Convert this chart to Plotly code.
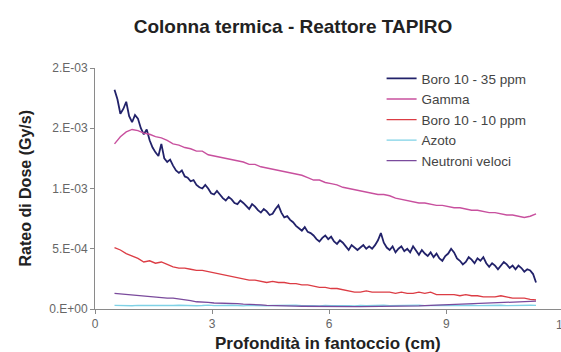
import plotly.graph_objects as go

# depth (cm) for the finely sampled Boro 10 - 35 ppm series
depth35 = [0.500, 0.575, 0.650, 0.725, 0.800, 0.875, 0.950, 1.025, 1.100, 1.175,
           1.250, 1.325, 1.400, 1.475, 1.550, 1.625, 1.700, 1.775, 1.850, 1.925,
           2.000, 2.075, 2.150, 2.225, 2.300, 2.375, 2.450, 2.525, 2.600, 2.675,
           2.750, 2.825, 2.900, 2.975, 3.050, 3.125, 3.200, 3.275, 3.350, 3.425,
           3.500, 3.575, 3.650, 3.725, 3.800, 3.875, 3.950, 4.025, 4.100, 4.175,
           4.250, 4.325, 4.400, 4.475, 4.550, 4.625, 4.700, 4.775, 4.850, 4.925,
           5.000, 5.075, 5.150, 5.225, 5.300, 5.375, 5.450, 5.525, 5.600, 5.675,
           5.750, 5.825, 5.900, 5.975, 6.050, 6.125, 6.200, 6.275, 6.350, 6.425,
           6.500, 6.575, 6.650, 6.725, 6.800, 6.875, 6.950, 7.025, 7.100, 7.175,
           7.250, 7.325, 7.400, 7.475, 7.550, 7.625, 7.700, 7.775, 7.850, 7.925,
           8.000, 8.075, 8.150, 8.225, 8.300, 8.375, 8.450, 8.525, 8.600, 8.675,
           8.750, 8.825, 8.900, 8.975, 9.050, 9.125, 9.200, 9.275, 9.350, 9.425,
           9.500, 9.575, 9.650, 9.725, 9.800, 9.875, 9.950, 10.025, 10.100, 10.175,
           10.250, 10.325, 10.400, 10.475, 10.550, 10.625, 10.700, 10.775, 10.850, 10.925,
           11.000, 11.075, 11.150, 11.225, 11.300]

# depth (cm) for the other series
depth = [0.50, 0.65, 0.80, 0.95, 1.10, 1.25, 1.40, 1.55, 1.70, 1.85,
         2.00, 2.15, 2.30, 2.45, 2.60, 2.75, 2.90, 3.05, 3.20, 3.35,
         3.50, 3.65, 3.80, 3.95, 4.10, 4.25, 4.40, 4.55, 4.70, 4.85,
         5.00, 5.15, 5.30, 5.45, 5.60, 5.75, 5.90, 6.05, 6.20, 6.35,
         6.50, 6.65, 6.80, 6.95, 7.10, 7.25, 7.40, 7.55, 7.70, 7.85,
         8.00, 8.15, 8.30, 8.45, 8.60, 8.75, 8.90, 9.05, 9.20, 9.35,
         9.50, 9.65, 9.80, 9.95, 10.10, 10.25, 10.40, 10.55, 10.70, 10.85,
         11.00, 11.15, 11.30]

# dose rates in units of 1e-3 Gy/s
boro35 = [1.82, 1.74, 1.62, 1.66, 1.72, 1.60, 1.55, 1.61, 1.58, 1.50,
          1.45, 1.49, 1.40, 1.34, 1.30, 1.27, 1.37, 1.25, 1.22, 1.24,
          1.19, 1.15, 1.13, 1.15, 1.10, 1.09, 1.06, 1.07, 1.03, 1.01,
          1.00, 1.03, 1.00, 0.96, 0.95, 0.98, 0.95, 0.92, 0.90, 0.93,
          0.91, 0.88, 0.87, 0.90, 0.88, 0.85, 0.83, 0.87, 0.85, 0.82,
          0.80, 0.83, 0.81, 0.78, 0.79, 0.83, 0.86, 0.80, 0.76, 0.77,
          0.74, 0.72, 0.69, 0.67, 0.65, 0.68, 0.64, 0.63, 0.61, 0.58,
          0.56, 0.59, 0.61, 0.58, 0.60, 0.56, 0.54, 0.57, 0.55, 0.52,
          0.49, 0.53, 0.51, 0.49, 0.51, 0.53, 0.50, 0.52, 0.50, 0.53,
          0.57, 0.63, 0.55, 0.51, 0.49, 0.52, 0.47, 0.50, 0.52, 0.48,
          0.50, 0.47, 0.52, 0.48, 0.45, 0.49, 0.46, 0.44, 0.47, 0.43,
          0.46, 0.42, 0.40, 0.44, 0.46, 0.50, 0.47, 0.42, 0.40, 0.37,
          0.39, 0.43, 0.41, 0.38, 0.42, 0.40, 0.43, 0.38, 0.35, 0.38,
          0.36, 0.33, 0.36, 0.39, 0.37, 0.34, 0.36, 0.33, 0.36, 0.34,
          0.31, 0.33, 0.32, 0.29, 0.22]
gamma = [1.37, 1.43, 1.47, 1.49, 1.48, 1.46, 1.45, 1.43, 1.42, 1.40,
         1.37, 1.36, 1.34, 1.33, 1.31, 1.31, 1.28, 1.27, 1.26, 1.25,
         1.24, 1.23, 1.22, 1.20, 1.20, 1.18, 1.17, 1.16, 1.15, 1.14,
         1.13, 1.12, 1.11, 1.09, 1.07, 1.07, 1.05, 1.04, 1.03, 1.01,
         1.00, 0.99, 0.98, 0.97, 0.96, 0.95, 0.95, 0.94, 0.92, 0.91,
         0.90, 0.89, 0.88, 0.88, 0.87, 0.86, 0.86, 0.85, 0.84, 0.84,
         0.83, 0.82, 0.82, 0.81, 0.80, 0.80, 0.79, 0.78, 0.78, 0.77,
         0.76, 0.77, 0.79]
boro10 = [0.51, 0.49, 0.46, 0.44, 0.42, 0.39, 0.40, 0.38, 0.39, 0.37,
          0.35, 0.34, 0.34, 0.33, 0.32, 0.32, 0.31, 0.30, 0.29, 0.28,
          0.27, 0.26, 0.25, 0.24, 0.24, 0.23, 0.22, 0.23, 0.22, 0.22,
          0.21, 0.21, 0.20, 0.20, 0.19, 0.18, 0.18, 0.17, 0.17, 0.16,
          0.15, 0.14, 0.14, 0.15, 0.14, 0.14, 0.14, 0.14, 0.13, 0.14,
          0.13, 0.13, 0.14, 0.13, 0.14, 0.12, 0.12, 0.12, 0.12, 0.11,
          0.12, 0.11, 0.11, 0.10, 0.10, 0.10, 0.11, 0.10, 0.09, 0.09,
          0.09, 0.08, 0.075]
azoto = [0.030, 0.028, 0.031, 0.027, 0.030, 0.029, 0.032, 0.028, 0.030, 0.027,
         0.029, 0.031, 0.028, 0.030, 0.027, 0.029, 0.032, 0.028, 0.030, 0.027,
         0.031, 0.029, 0.026, 0.030, 0.028, 0.031, 0.027, 0.029, 0.030, 0.026,
         0.029, 0.031, 0.027, 0.030, 0.028, 0.026, 0.030, 0.027, 0.029, 0.031,
         0.028, 0.026, 0.030, 0.027, 0.029, 0.028, 0.031, 0.027, 0.029, 0.030,
         0.027, 0.029, 0.031, 0.028, 0.030, 0.027, 0.029, 0.031, 0.028, 0.030,
         0.029, 0.031, 0.028, 0.030, 0.032, 0.029, 0.031, 0.028, 0.030, 0.032,
         0.029, 0.031, 0.030]
neutroni = [0.130, 0.125, 0.120, 0.115, 0.110, 0.105, 0.100, 0.100, 0.095, 0.090,
            0.090, 0.085, 0.080, 0.070, 0.060, 0.060, 0.055, 0.050, 0.050, 0.050,
            0.045, 0.045, 0.040, 0.040, 0.035, 0.035, 0.030, 0.030, 0.028, 0.026,
            0.025, 0.024, 0.023, 0.022, 0.022, 0.021, 0.020, 0.020, 0.020, 0.019,
            0.020, 0.019, 0.020, 0.020, 0.021, 0.020, 0.021, 0.022, 0.022, 0.023,
            0.024, 0.025, 0.026, 0.028, 0.030, 0.031, 0.033, 0.035, 0.037, 0.040,
            0.043, 0.045, 0.047, 0.049, 0.050, 0.051, 0.053, 0.054, 0.055, 0.057,
            0.059, 0.061, 0.065]

series_names = ["Boro 10 - 35 ppm", "Gamma", "Boro 10 - 10 ppm", "Azoto", "Neutroni veloci"]
y_tickvals = [0.0, 0.5e-3, 1.0e-3, 1.5e-3, 2.0e-3]
y_ticktext = ["0.E+00", "5.E-04", "1.E-03", "2.E-03", "2.E-03"]
x_tickvals = [0, 3, 6, 9]
x_ticktext = ["0", "3", "6", "9"]

colors = ["#22226a", "#c8509e", "#dc3c44", "#7fd2e6", "#7a4a9c"]
widths = [1.8, 1.4, 1.3, 1.3, 1.3]
xs = [depth35, depth, depth, depth, depth]
data = [boro35, gamma, boro10, azoto, neutroni]

FONT = "Liberation Sans, Arial, sans-serif"

fig = go.Figure()
for name, x, vals, c, w in zip(series_names, xs, data, colors, widths):
    fig.add_trace(go.Scatter(
        x=x, y=[v * 1e-3 for v in vals], mode="lines", name=name,
        line=dict(color=c, width=w)))

fig.update_layout(
    width=561, height=352,
    margin=dict(l=95, r=0, t=68, b=43),
    paper_bgcolor="white", plot_bgcolor="white",
    font=dict(family=FONT, color="#333333", size=12),
    showlegend=True,
    legend=dict(x=0.615, y=1.02, xanchor="left", yanchor="top",
                bgcolor="rgba(0,0,0,0)", font=dict(size=13.5, color="#444444"),
                itemwidth=30, tracegroupgap=0),
    title=dict(text="<b>Colonna termica - Reattore TAPIRO</b>",
               x=293 / 561, xanchor="center", y=1 - 26 / 352, yanchor="middle",
               font=dict(family=FONT, size=19, color="#222222")),
)
fig.update_xaxes(range=[0, 11.94], tickvals=x_tickvals, ticktext=x_ticktext,
                 showline=True, linecolor="#8a8a8a", linewidth=1,
                 ticks="outside", ticklen=4, tickcolor="#8a8a8a",
                 showgrid=False, zeroline=False,
                 tickfont=dict(size=12, color="#666666"))
fig.update_yaxes(range=[0, 2.0e-3], tickvals=y_tickvals, ticktext=y_ticktext,
                 showline=True, linecolor="#8a8a8a", linewidth=1,
                 ticks="outside", ticklen=4, tickcolor="#8a8a8a",
                 showgrid=False, zeroline=False,
                 tickfont=dict(size=12, color="#666666"))

# cut-off "12" tick label at the right edge
fig.add_annotation(text="12", xref="paper", yref="paper", x=(563 - 95) / 466, y=0,
                   yshift=-16, showarrow=False, xanchor="center", yanchor="middle",
                   font=dict(size=12, color="#666666"))
# axis titles
fig.add_annotation(text="<b>Profondità in fantoccio (cm)</b>", xref="paper", yref="paper",
                   x=(328 - 95) / 466, y=0, yshift=-34, showarrow=False,
                   xanchor="center", yanchor="middle",
                   font=dict(family=FONT, size=17, color="#222222"))
fig.add_annotation(text="<b>Rateo di Dose (Gy/s)</b>", xref="paper", yref="paper",
                   x=0, xshift=-70, y=0.5, textangle=-90, showarrow=False,
                   xanchor="center", yanchor="middle",
                   font=dict(family=FONT, size=16, color="#222222"))

fig.write_html("out.html")
